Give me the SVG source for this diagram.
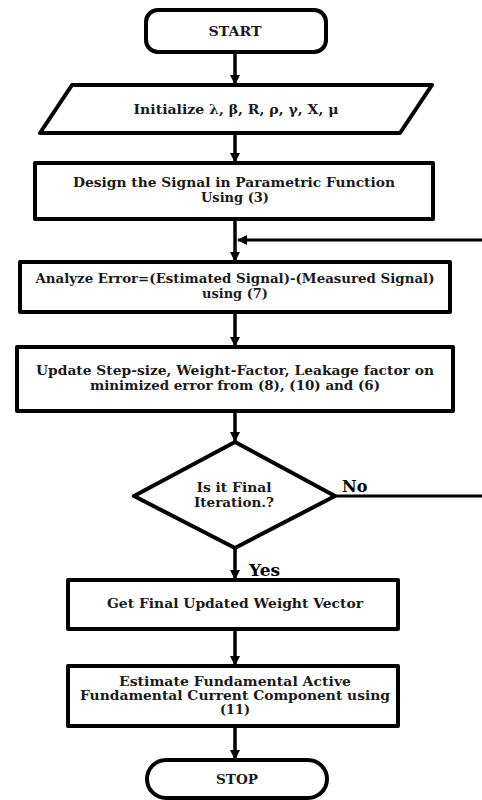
<svg xmlns="http://www.w3.org/2000/svg" width="482" height="800" viewBox="0 0 482 800">
<defs>
<marker id="ah" markerWidth="10" markerHeight="10" refX="9" refY="5" orient="auto" markerUnits="userSpaceOnUse">
<path d="M0,0 L10,5 L0,10 Z" fill="#000"/>
</marker>
<style>
.s{fill:#fff;stroke:#000;stroke-width:4;stroke-linejoin:round}
.t{font-family:"DejaVu Serif","Liberation Serif",serif;font-weight:bold;font-size:12.5px;fill:#1a1a1a;text-anchor:middle}
.c{fill:none;stroke:#000;stroke-width:3.5;marker-end:url(#ah)}
.l{font-family:"DejaVu Serif","Liberation Serif",serif;font-weight:bold;fill:#000}
</style>
</defs>
<rect width="482" height="800" fill="#fff"/>
<g id="connectors">
<line class="c" x1="235" y1="52" x2="235" y2="84"/>
<line class="c" x1="235" y1="133" x2="235" y2="162"/>
<line class="c" x1="235" y1="219" x2="235" y2="261"/>
<path class="c" style="stroke-width:3" d="M335,496 H487 V240 H238"/>
<line class="c" x1="235" y1="312" x2="235" y2="346"/>
<line class="c" x1="235" y1="411" x2="235" y2="441"/>
<line class="c" x1="235" y1="548" x2="235" y2="579"/>
<line class="c" x1="235" y1="629" x2="235" y2="665"/>
<line class="c" x1="235" y1="726" x2="235" y2="759"/>
<text class="l" x="342" y="492" font-size="16">No</text>
<text class="l" x="249" y="576" font-size="17">Yes</text>
</g>
<g id="start">
<rect class="s" x="146" y="10" width="180" height="42" rx="12"/>
<text class="t" x="235" y="36" textLength="53" lengthAdjust="spacingAndGlyphs">START</text>
</g>
<g id="init">
<polygon class="s" points="72,85 432,85 400,133 40,133"/>
<text class="t" x="236" y="114" textLength="205" lengthAdjust="spacingAndGlyphs">Initialize λ, β, R, ρ, γ, X, μ</text>
</g>
<g id="design">
<rect class="s" x="35" y="163" width="398" height="56"/>
<text class="t" x="234" y="187" textLength="322" lengthAdjust="spacingAndGlyphs">Design the Signal in Parametric Function</text>
<text class="t" x="235" y="202" textLength="68" lengthAdjust="spacingAndGlyphs">Using (3)</text>
</g>
<g id="analyze">
<rect class="s" x="20" y="262" width="430" height="50"/>
<text class="t" x="235" y="283" textLength="399" lengthAdjust="spacingAndGlyphs">Analyze Error=(Estimated Signal)-(Measured Signal)</text>
<text class="t" x="235" y="298" textLength="66" lengthAdjust="spacingAndGlyphs">using (7)</text>
</g>
<g id="update">
<rect class="s" x="17" y="347" width="436" height="64"/>
<text class="t" x="235" y="375" textLength="398" lengthAdjust="spacingAndGlyphs">Update Step-size, Weight-Factor, Leakage factor on</text>
<text class="t" x="235" y="390" textLength="290" lengthAdjust="spacingAndGlyphs">minimized error from (8), (10) and (6)</text>
</g>
<g id="decision">
<polygon class="s" points="235,442 335,496 235,548 134,496"/>
<text class="t" x="234" y="492" font-size="11" textLength="75" lengthAdjust="spacingAndGlyphs">Is it Final</text>
<text class="t" x="234" y="507" font-size="11" textLength="80" lengthAdjust="spacingAndGlyphs">Iteration.?</text>
</g>
<g id="getfinal">
<rect class="s" x="68" y="580" width="330" height="49"/>
<text class="t" x="235" y="608" textLength="256" lengthAdjust="spacingAndGlyphs">Get Final Updated Weight Vector</text>
</g>
<g id="estimate">
<rect class="s" x="68" y="666" width="330" height="60"/>
<text class="t" x="235" y="686" textLength="232" lengthAdjust="spacingAndGlyphs">Estimate Fundamental Active</text>
<text class="t" x="235" y="700" textLength="310" lengthAdjust="spacingAndGlyphs">Fundamental Current Component using</text>
<text class="t" x="235" y="714" textLength="30" lengthAdjust="spacingAndGlyphs">(11)</text>
</g>
<g id="stop">
<rect class="s" x="147" y="760" width="180" height="38" rx="19"/>
<text class="t" x="237" y="784" textLength="42" lengthAdjust="spacingAndGlyphs">STOP</text>
</g>
</svg>
